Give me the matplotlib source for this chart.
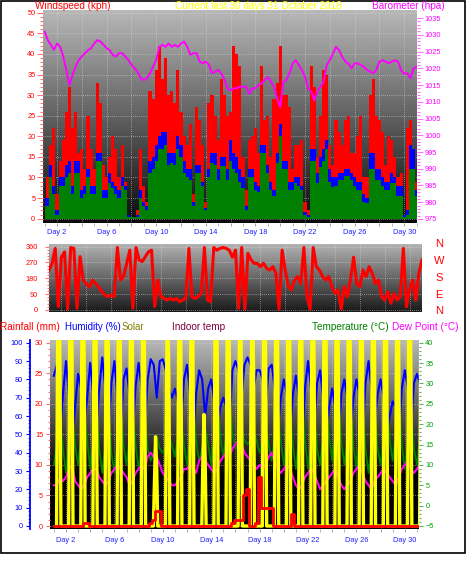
import numpy as np
import matplotlib
matplotlib.use("Agg")
import matplotlib.pyplot as plt
from matplotlib.patches import Rectangle

plt.rcParams['font.family'] = ['Liberation Sans', 'DejaVu Sans']

W, H = 468, 566

#%% data
# top panel, four readings a day from day 1
gust = [
    5, 10, 18, 22,  6, 14, 19, 26,  32, 22, 26, 16,  17, 12, 25, 17,
    12, 33, 28, 13,  10, 15, 20, 17,  10, 18, 9, 1,  0.5, 0.5, 2, 17,
    8, 4, 31, 29,  36, 42, 34, 39,  30, 31, 28, 36,  26, 20, 18, 23,
    6, 27, 24, 18,  4, 28, 30, 25,  19, 34, 30, 25,
    26, 42, 40, 37,  15, 7, 19, 20,  22, 16, 37, 24,  25, 15, 29, 33,
    42, 30, 30, 27,  12, 18, 18, 19,  4, 2, 37, 32,  15, 25, 36, 35,
    18, 13, 24, 21,  18, 24, 25, 16,  16, 20, 25, 10,  10, 30, 34, 25,
    24, 21, 13, 20,  19, 15, 10, 11,  1, 22, 24, 9,  9,
]
wind = [
    5, 5, 13, 8,  2, 10, 10, 13,  14, 8, 14, 14,  7, 8, 12, 8,
    8, 16, 16, 7,  7, 11, 9, 8,  7, 10, 8, 1,  0.5, 0.5, 1, 7,
    4, 3, 14, 15,  18, 20, 21, 21,  16, 16, 16, 20,  18, 14, 12, 12,
    4, 13, 13, 9,  2.5, 12, 16, 16,  12, 15, 15, 12,
    19, 16, 15, 12,  10, 3, 12, 12,  9, 8, 18, 18,  13, 9, 7, 16,
    23, 14, 14, 9,  9, 10, 10, 8,  1.5, 1, 17, 17,  11, 15, 17, 19,
    12, 10, 10, 11,  11, 12, 12, 11,  10, 9, 9, 6,  5, 16, 16, 12,
    12, 10, 9, 9,  11, 10, 8, 8,  1, 2, 18, 17,  7,
]
avg = [
    3, 3, 10, 6,  1, 8, 8, 10,  11, 6, 11, 11,  5, 6, 10, 6,
    6, 14, 14, 5,  5, 8.6, 7.5, 6,  5, 8, 7, 0.5,  0.3, 0.3, 0.5, 5,
    3, 2, 11, 12,  14, 17, 17, 18,  13, 13.5, 13, 17,  15, 11, 10, 9.5,
    3, 11, 11, 8,  2, 10, 13.5, 13,  9.4, 12.7, 12.7, 9.4,
    14, 12, 11, 9,  7.5, 2, 10, 10,  7, 6.5, 16, 16,  11, 7, 5.5, 13.5,
    20, 12, 12, 7,  7, 8.6, 8, 7,  1, 0.5, 14, 14,  8.6, 12.5, 14, 16.8,
    9, 7.8, 8, 9.4,  9.4, 10.3, 10.3, 9.4,  8, 7, 7, 4,  3.7, 12, 12, 9.4,
    9.4, 8, 7, 7,  8.6, 8.6, 5.4, 5.4,  0.5, 1, 12, 12,  5.4,
]
baro = [
    1030.9, 1028.5, 1027.0, 1025.5,  1027.4, 1026.4, 1023.5, 1019.5,
    1015.0, 1018.0, 1020.5, 1022.5,  1023.5, 1024.5, 1025.4, 1026.0,
    1027.4, 1028.4, 1028.0, 1027.0,  1026.0, 1025.4, 1024.0, 1023.5,
    1024.5, 1024.5, 1023.5, 1022.5,  1021.0, 1020.0, 1019.0, 1017.0,
    1016.5, 1017.0, 1018.5, 1020.5,  1022.5, 1026.4, 1027.0, 1026.4,
    1027.4, 1026.4, 1027.0, 1026.4,  1027.4, 1028.0, 1026.4, 1024.0,
    1024.5, 1024.5, 1022.0, 1021.5,  1022.0, 1021.0, 1018.5, 1019.0,
    1019.5, 1018.5, 1016.5, 1014.0,  1013.4, 1014.0, 1014.0, 1014.5,
    1014.5, 1014.5, 1012.4, 1014.0,  1014.0, 1015.0, 1015.4, 1016.5,
    1017.4, 1016.0, 1014.5, 1011.0,  1008.4, 1016.0, 1016.5, 1018.5,
    1021.4, 1022.4, 1021.0, 1019.4,  1017.4, 1014.0, 1013.0, 1010.4,
    1013.0, 1014.5, 1016.0, 1021.0,  1022.4, 1024.4, 1026.4, 1025.4,
    1023.4, 1022.0, 1021.4, 1020.0,  1021.5, 1021.4, 1021.0, 1020.4,
    1019.5, 1019.0, 1018.5, 1019.5,  1022.0, 1022.4, 1022.0, 1021.5,
    1022.0, 1022.4, 1022.0, 1019.4,  1018.4, 1018.5, 1017.0, 1020.0,
    1020.4,
]
wdir = [
    227, 265, 350, 20,  300, 330, 5, 355,  350, 10, 303, 170,  150, 130, 170, 150,
    130, 104, 85, 76,  85, 76, 355, 170,  190, 265, 340, 10,  355, 284, 275, 303,
    330, 340, 20, 170,  76, 66, 57, 66,  57, 66, 47, 57,  66, 350, 76, 66,
    76, 95, 355, 57,  47, 355, 340, 350,  355, 350, 340, 300,
    340, 10, 355, 5,  322, 284, 265, 265,  246, 265, 237, 227,  246, 208, 5, 340,
    227, 133, 114, 170,  190, 150, 355, 76,  5, 355, 246, 227,  190, 170, 190, 133,
    95, 114, 5, 133,  76, 170, 300, 150,  133, 227, 190, 246,  208, 150, 170, 76,
    57, 104, 38, 95,  57, 76, 350, 19,  114, 170, 57, 208,  284,
]

# bottom panel, four readings a day (about 3am, 9am, 3pm, 9pm)
hum = [
    82, 88, 50, 72,  90, 70, 47, 65,  83, 75, 55, 70,  89, 72, 50, 75,
    92, 75, 48, 78,  90, 70, 45, 80,  86, 72, 50, 76,  89, 75, 52, 80,
    91, 88, 70, 90,  91, 85, 75, 70,  75, 68, 55, 80,  88, 72, 48, 72,
    85, 80, 60, 75,  80, 68, 50, 65,  70, 65, 52, 85,  90, 85, 70, 88,
    92, 88, 75, 85,  85, 80, 65, 86,  88, 75, 52, 70,  80, 72, 50, 72,
    82, 70, 45, 75,  90, 75, 55, 78,  85, 70, 48, 65,  75, 65, 45, 72,
    80, 70, 50, 70,  80, 72, 48, 78,  90, 75, 55, 72,  80, 70, 50, 60,
    68, 65, 50, 75,  85, 75, 52, 78,  83, 78, 60, 80,
]
temp = [
    10, 15, 22, 14,  8, 16, 24, 15,  10, 17, 23, 16,  9, 16, 25, 14,
    8, 15, 24, 13,  8, 16, 26, 15,  10, 17, 24, 15,  9, 15, 23, 14,
    11, 13, 17, 14,  13, 14, 17, 15,  12, 17, 22, 15,  10, 17, 24, 16,
    11, 14, 19, 15,  10, 17, 26, 17,  12, 18, 27, 18,  14, 15, 19, 16,
    15, 16, 18, 16,  13, 16, 20, 15,  11, 17, 24, 16,  10, 16, 25, 15,
    9, 17, 27, 16,  9, 15, 24, 14,  10, 17, 26, 17,  11, 18, 27, 16,
    10, 16, 25, 15,  9, 16, 26, 14,  8, 15, 24, 14,  10, 17, 26, 16,
    11, 18, 26, 15,  9, 16, 24, 14,  10, 17, 25, 15,
]
dew = [
    5, 5, 7, 6,  7, 9, 10, 6,  5, 4, 5, 7,  8, 9, 9, 7,
    6, 5, 6, 8,  9, 10, 9, 8,  7, 5, 6, 8,  9, 10, 9, 12,
    13, 12, 12, 10,  8, 7, 6, 5,  5, 6, 7, 9,  9, 10, 9, 8,
    11, 12, 11, 10,  9, 8, 9, 11,  12, 13, 12, 14,  15, 16, 15, 13,
    12, 11, 10, 9,  10, 9, 10, 12,  13, 11, 9, 8,  9, 10, 9, 7,
    5, 4, 5, 7,  8, 9, 8, 6,  4, 5, 6, 7,  8, 9, 7, 5,
    4, 5, 6, 8,  9, 10, 8, 6,  5, 4, 6, 7,  8, 9, 8, 7,
    6, 5, 7, 9,  10, 11, 9, 8,  9, 10, 11, 10,
]
rain = [
    0, 0, 0, 0,  0, 0, 0, 0,  0, 0, 0.5, 0.5,  0, 0, 0, 0,
    0, 0, 0, 0,  0, 0, 0, 0,  0, 0, 0, 0,  0, 0, 0, 0,
    0.5, 1, 2.5, 2.5,  0, 0, 0, 0,  0, 0, 0, 0,  0, 0, 0, 0,
    0, 0, 0, 0,  0, 0, 0, 0,  0, 0, 0, 0.5,  1, 1, 1, 5,
    6, 0, 0, 0.5,  8, 3, 3, 3,  3, 0, 0, 0,  0, 0, 0, 2,
    0, 0, 0, 0,  0, 0, 0, 0,  0, 0, 0, 0,  0, 0, 0, 0,
    0, 0, 0, 0,  0, 0, 0, 0,  0, 0, 0, 0,  0, 0, 0, 0,
    0, 0, 0, 0,  0, 0, 0, 0,  0, 0, 0, 0,
]
# solar, one row per day: sunrise, morning, noon, afternoon, sunset
solar = [
    [0, 460, 780, 440, 0], [0, 470, 800, 460, 0], [0, 450, 790, 450, 0],
    [0, 440, 760, 430, 0], [0, 470, 800, 450, 0], [0, 460, 790, 460, 0],
    [0, 450, 770, 440, 0], [0, 430, 720, 420, 0], [0, 110, 240, 150, 0],
    [0, 380, 620, 400, 0], [0, 450, 780, 450, 0], [0, 440, 760, 430, 0],
    [0, 160, 300, 180, 0], [0, 460, 790, 450, 0], [0, 450, 770, 440, 0],
    [0, 420, 700, 400, 0], [0, 400, 650, 420, 0], [0, 430, 720, 430, 0],
    [0, 450, 780, 440, 0], [0, 460, 790, 450, 0], [0, 470, 800, 460, 0],
    [0, 440, 760, 440, 0], [0, 460, 790, 450, 0], [0, 450, 780, 440, 0],
    [0, 460, 770, 450, 0], [0, 450, 780, 460, 0], [0, 440, 760, 440, 0],
    [0, 460, 780, 450, 0], [0, 450, 770, 440, 0], [0, 440, 760, 430, 0],
    [0, 450, 760, 440, 0],
]

day_ticks = [2, 6, 10, 14, 18, 22, 26, 30]
compass = ['N', 'W', 'S', 'E', 'N']

#%% helpers
fig = plt.figure(figsize=(W / 100, H / 100), dpi=100)
fig.patch.set_facecolor('white')


def box(x0, y0, x1, y1):
    # axes placed by pixel edges of the image
    return fig.add_axes([x0 / W, 1 - y1 / H, (x1 - x0) / W, (y1 - y0) / H])


def shade(ax, top, bottom, stop=1.0):
    s = np.linspace(0, 1, 200)
    g = np.clip(top - (top - bottom) * s / stop, bottom, 1)
    ax.imshow(g[:, None], extent=[0, 1, 0, 1], transform=ax.transAxes,
              cmap='gray', vmin=0, vmax=1, aspect='auto', zorder=0)


def bare(ax):
    for sp in ax.spines.values():
        sp.set_visible(False)


def day_axis(ax, labels=True):
    even = list(range(2, 31, 2))
    ax.set_xticks(even)
    if labels:
        ax.set_xticklabels([f'Day {d}' if d in day_ticks else '' for d in even])
    else:
        ax.set_xticklabels([])
    ax.set_xticks(range(1, 32), minor=True)
    ax.tick_params(axis='x', which='both', colors='#a8a8a8', labelcolor='#2020ff',
                   labelsize=5.3, length=2, pad=2.5)


def ftext(x, y, s, color, size=7.2, ha='left'):
    fig.text(x / W, 1 - y / H, s, color=color, fontsize=size, ha=ha, va='center')


grid_kw = dict(color='#d8d8d8', lw=0.5, ls=(0, (1, 2)))

#%% wind speed + barometer
tq = 1 + np.arange(len(gust)) / 4
ax1 = box(43, 10, 417, 223)
shade(ax1, 0.72, 0.04)
ax1.fill_between(tq, gust, step='mid', color='#ff0000', lw=0, zorder=2)
ax1.fill_between(tq, wind, step='mid', color='#0000ff', lw=0, zorder=3)
ax1.fill_between(tq, avg, step='mid', color='#008000', lw=0, zorder=4)
ax1.set_xlim(0.87, 31.03)
ax1.set_ylim(-1.05, 50.66)
ax1.set_yticks(range(0, 51, 5))
ax1.set_yticks(range(0, 51), minor=True)
ax1.tick_params(axis='y', which='major', colors='#ff7070', labelcolor='#ff0000',
                labelsize=5.3, length=4, width=0.8, pad=1.5)
ax1.tick_params(axis='y', which='minor', colors='#ff7070', length=2, width=0.8)
day_axis(ax1)
ax1.grid(True, **grid_kw)
ax1.set_axisbelow(True)
bare(ax1)

ax1b = ax1.twinx()
ax1b.plot(tq, baro, color='#ff00ff', lw=1.4)
ax1b.set_ylim(973.8, 1037.4)
ax1b.set_yticks(range(975, 1036, 5))
ax1b.set_yticks(range(975, 1036), minor=True)
ax1b.tick_params(axis='y', which='major', colors='#ff70ff', labelcolor='#ff00ff',
                 labelsize=5.3, length=4, width=0.8, pad=1.5)
ax1b.tick_params(axis='y', which='minor', colors='#ff70ff', length=2, width=0.8)
bare(ax1b)

#%% wind direction
ax2 = box(49, 244, 422, 312)
shade(ax2, 0.7, 0.1)
ax2.plot(tq, wdir, color='#ff0000', lw=2.2, zorder=3)
ax2.set_xlim(1, 31)
ax2.set_ylim(-11.4, 375)
ax2.set_yticks([0, 90, 180, 270, 360])
ax2.set_yticks(range(0, 361, 18), minor=True)
ax2.tick_params(axis='y', which='major', colors='#ff7070', labelcolor='#ff0000',
                labelsize=5.3, length=3, width=0.8, pad=5)
ax2.tick_params(axis='y', which='minor', colors='#ff7070', length=1.5, width=0.8)
day_axis(ax2, labels=False)
ax2.tick_params(axis='x', which='both', length=0)
ax2.grid(True, **grid_kw)
ax2.set_axisbelow(True)
bare(ax2)
for c, y in zip(compass, [244, 261, 278, 295, 311]):
    ftext(439, y, c, '#ff0000', 8, 'center')

#%% rain, humidity, solar, temperature
t4 = 1 + np.arange(len(hum)) / 4
st = (np.arange(1, len(solar) + 1)[:, None]
      + np.array([0.22, 0.3, 0.4, 0.5, 0.58])).ravel()

ax3 = box(50, 340, 419, 529)
shade(ax3, 0.72, 0.0, 0.72)
ax3.set_xlim(0.678, 31.17)
ax3.set_ylim(-0.49, 30.44)
ax3.set_yticks(range(0, 31, 5))
ax3.set_yticks(range(0, 31), minor=True)
ax3.tick_params(axis='y', which='major', colors='#ff7070', labelcolor='#ff0000',
                labelsize=5.3, length=3, width=0.8, pad=2)
ax3.tick_params(axis='y', which='minor', colors='#ff7070', length=1.5, width=0.8)
day_axis(ax3)
ax3.tick_params(axis='x', pad=4)
ax3.grid(True, **grid_kw)
ax3.set_axisbelow(True)
bare(ax3)

ax_h = ax3.twinx()
ax_h.plot(t4, hum, color='#0000ff', lw=1.5)
ax_h.set_ylim(-1.64, 101.5)
bare(ax_h)
ax_h.yaxis.tick_left()
ax_h.spines['left'].set_visible(True)
ax_h.spines['left'].set_position(('axes', -20 / 369))
ax_h.spines['left'].set_color('#0000ff')
ax_h.spines['left'].set_linewidth(1.3)
ax_h.set_yticks(range(0, 101, 10))
ax_h.set_yticks(range(0, 101, 2), minor=True)
ax_h.tick_params(axis='y', which='major', colors='#0000ff', labelcolor='#0000ff',
                 labelsize=5.3, length=3, width=0.8, pad=2)
ax_h.tick_params(axis='y', which='minor', colors='#6060ff', length=1.5, width=0.8)

ax_t = ax3.twinx()
ax_t.plot(t4, temp, color='#008000', lw=1.2)
ax_t.plot(t4, dew, color='#ff00ff', lw=1.5)
ax_t.set_ylim(-5.74, 40.66)
ax_t.set_yticks(range(-5, 41, 5))
ax_t.set_yticks(range(-5, 41), minor=True)
ax_t.tick_params(axis='y', which='major', colors='#60b060', labelcolor='#00a000',
                 labelsize=5.3, length=3, width=0.8, pad=1.5)
ax_t.tick_params(axis='y', which='minor', colors='#60b060', length=1.5, width=0.8)
bare(ax_t)

ax_s = ax3.twinx()
ax_s.plot(st, np.ravel(solar), color='#ffff00', lw=2.4)
ax_s.set_ylim(-8.06, 500)
ax_s.set_yticks([])
bare(ax_s)

ax_r = ax3.twinx()
ax_r.plot(t4, rain, color='#ff0000', lw=2, drawstyle='steps-mid')
ax_r.set_ylim(-0.49, 30.44)
ax_r.set_yticks([])
bare(ax_r)

#%% titles and frame
ftext(35, 6, 'Windspeed (kph)', '#ff0000')
ftext(175, 6, 'Current last 30 days 31 October 2018', '#ffff00')
ftext(372, 6, 'Barometer (hpa)', '#ff00ff')
ftext(0, 327, 'Rainfall (mm)', '#ff0000')
ftext(65, 327, 'Humidity (%)', '#0000ff', 7.0)
ftext(122, 327, 'Solar', '#808000', 7.0)
ftext(172, 327, 'Indoor temp', '#800040')
ftext(312, 327, 'Temperature (°C)', '#008000')
ftext(392, 327, 'Dew Point (°C)', '#ff00ff')

fig.add_artist(Rectangle((1 / W, 13.5 / H), 464 / W, 552 / H, transform=fig.transFigure,
                         fill=False, ec='black', lw=1.2))

fig.savefig('out.png', dpi=100)
